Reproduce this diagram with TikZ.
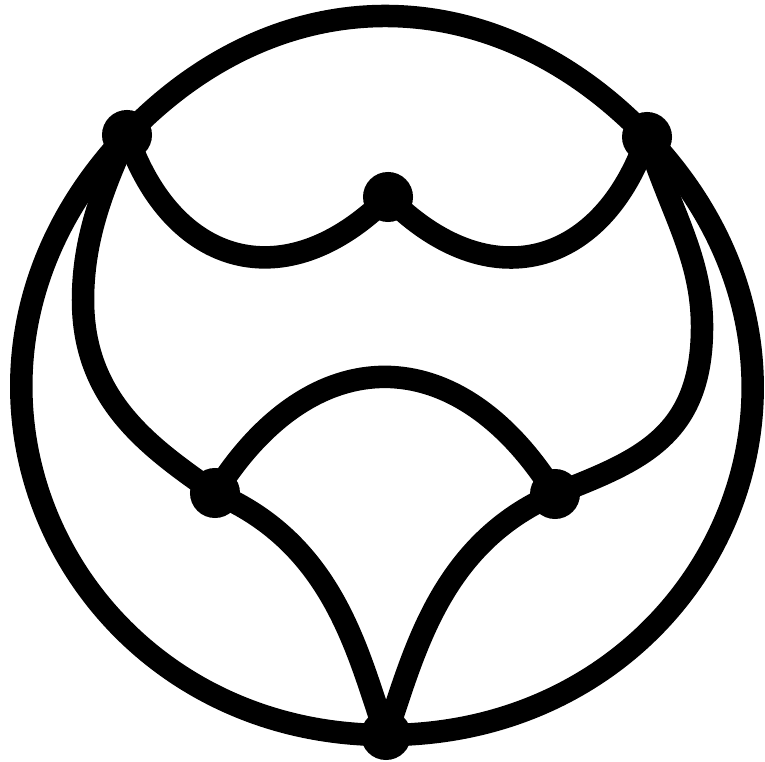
\documentclass[tikz,border=0pt]{standalone}
\usetikzlibrary{backgrounds}
\begin{document}
\begin{tikzpicture}[x=0.01cm,y=-0.01cm,
  dot/.style={circle,fill=black,inner sep=0pt,minimum size=0.5cm},
  edge/.style={draw=black,line width=0.225cm}]
\useasboundingbox (0,0) rectangle (765,762);
\node[dot] (A) at (127,135) {};
\node[dot] (B) at (647,137) {};
\node[dot] (C) at (388,197) {};
\node[dot] (D) at (215,493) {};
\node[dot] (E) at (555,494) {};
\node[dot] (F) at (386,735) {};
\begin{pgfonlayer}{background}
% outer circle arcs
\draw[edge] (A.center) .. controls (280,-25) and (494,-23) .. (B.center);
\draw[edge] (B.center) .. controls (877,379) and (705,735) .. (F.center);
\draw[edge] (F.center) .. controls (69,735) and (-103,377) .. (A.center);
% upper scallops
\draw[edge] (A.center) .. controls (172,266) and (285,300) .. (C.center);
\draw[edge] (C.center) .. controls (490,300) and (603,266) .. (B.center);
% side loops
\draw[edge] (A.center) .. controls (102,190) and (83,240) .. (83,300)
  .. controls (83,400) and (149,447) .. (D.center);
\draw[edge] (B.center) .. controls (671,213) and (702,257) .. (702,327)
  .. controls (702,437) and (639,461) .. (E.center);
% arch
\draw[edge] (D.center) .. controls (312,338) and (458,338) .. (E.center);
% lower V
\draw[edge] (D.center) .. controls (335,544) and (358,655) .. (F.center);
\draw[edge] (E.center) .. controls (439,544) and (414,655) .. (F.center);
\end{pgfonlayer}
\end{tikzpicture}
\end{document}
